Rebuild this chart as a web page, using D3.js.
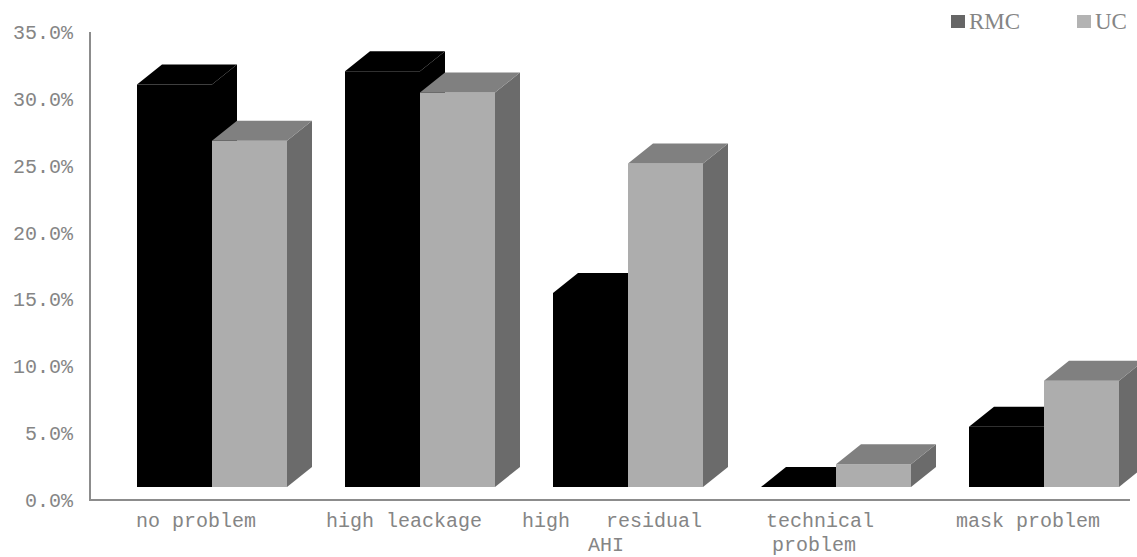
<!DOCTYPE html>
<html>
<head>
<meta charset="utf-8">
<script src="https://cdn.jsdelivr.net/npm/d3@7"></script>
<style>
  html, body { margin: 0; padding: 0; background: #fff; }
  svg { display: block; }
</style>
</head>
<body>
<svg id="chart" width="1137" height="557"></svg>
<script>
// Problem categories (line breaks mark wrapped labels)
const categories = ["no problem", "high leackage", "high   residual\nAHI", "technical\nproblem", "mask problem"];
const series = ["RMC", "UC"];
const rmcValues = [0.301, 0.311, 0.145, 0.0, 0.045];
const ucValues = [0.259, 0.295, 0.242, 0.017, 0.0795];
const yTicks = [0, 0.05, 0.10, 0.15, 0.20, 0.25, 0.30, 0.35];

const svg = d3.select("#chart");

const y = d3.scaleLinear().domain([0, 0.35]).range([500, 32]);
const x = d3.scaleBand().domain(categories).range([90, 1130]);
const inner = d3.scaleBand().domain(series).range([-75, 75]);

// 3D projection: bars sit set back from the floor edge, with a fixed depth vector
const setBack = { dx: 18, dy: -13 };
const depth = { dx: 25, dy: -20 };

const colors = {
  RMC: { front: "#000000", top: "#000000", side: "#000000", legend: "#666666" },
  UC:  { front: "#adadad", top: "#808080", side: "#6b6b6b", legend: "#b3b3b3" }
};

const bars = [];
categories.forEach((c, i) => {
  bars.push({ cat: c, s: "RMC", v: rmcValues[i] });
  bars.push({ cat: c, s: "UC", v: ucValues[i] });
});

const g = svg.append("g");
bars.forEach(b => {
  const x0 = x(b.cat) + x.bandwidth() / 2 + setBack.dx + inner(b.s);
  const x1 = x0 + inner.bandwidth();
  const yb = y(0) + setBack.dy;
  const yt = y(b.v) + setBack.dy;
  const col = colors[b.s];
  const pts = a => a.map(p => p.join(",")).join(" ");
  // side face
  g.append("polygon")
    .attr("points", pts([[x1, yb], [x1 + depth.dx, yb + depth.dy], [x1 + depth.dx, yt + depth.dy], [x1, yt]]))
    .attr("fill", col.side);
  // front face
  g.append("polygon")
    .attr("points", pts([[x0, yb], [x1, yb], [x1, yt], [x0, yt]]))
    .attr("fill", col.front);
  // top face
  g.append("polygon")
    .attr("points", pts([[x0, yt], [x1, yt], [x1 + depth.dx, yt + depth.dy], [x0 + depth.dx, yt + depth.dy]]))
    .attr("fill", col.top);
});

// Axis lines
svg.append("line")
  .attr("x1", 90).attr("x2", 90).attr("y1", y(0.35)).attr("y2", y(0))
  .attr("stroke", "#8c8c8c").attr("stroke-width", 2);
svg.append("line")
  .attr("x1", 89).attr("x2", 1130).attr("y1", y(0)).attr("y2", y(0))
  .attr("stroke", "#8c8c8c").attr("stroke-width", 2);

const monoFont = "'Liberation Mono', 'DejaVu Sans Mono', monospace";
const textColor = "#858585";

// Value tick labels
svg.append("g").selectAll("text")
  .data(yTicks)
  .join("text")
  .attr("x", 73)
  .attr("y", d => y(d))
  .attr("dy", "0.35em")
  .attr("text-anchor", "end")
  .attr("font-family", monoFont)
  .attr("font-size", 20)
  .attr("fill", textColor)
  .text(d => d3.format(".1%")(d));

// Category labels
const catLabels = svg.append("g").selectAll("text")
  .data(categories)
  .join("text")
  .attr("y", 527)
  .attr("text-anchor", "middle")
  .attr("font-family", monoFont)
  .attr("font-size", 20)
  .attr("fill", textColor)
  .style("white-space", "pre");
catLabels.each(function(d) {
  const t = d3.select(this);
  const cx = x(d) + x.bandwidth() / 2;
  d.split("\n").forEach((line, k) => {
    t.append("tspan")
      .attr("x", cx + (k === 0 ? 2 : -4))
      .attr("dy", k === 0 ? 0 : 24)
      .text(line);
  });
});

// Legend
const legend = svg.append("g");
const legendX = { RMC: 951, UC: 1077 };
series.forEach(s => {
  legend.append("rect")
    .attr("x", legendX[s]).attr("y", 15).attr("width", 14).attr("height", 13)
    .attr("fill", colors[s].legend);
  legend.append("text")
    .attr("x", legendX[s] + 18).attr("y", 28.5)
    .attr("font-family", "'Liberation Serif', 'DejaVu Serif', serif")
    .attr("font-size", 23)
    .attr("fill", textColor)
    .text(s);
});
</script>
</body>
</html>
